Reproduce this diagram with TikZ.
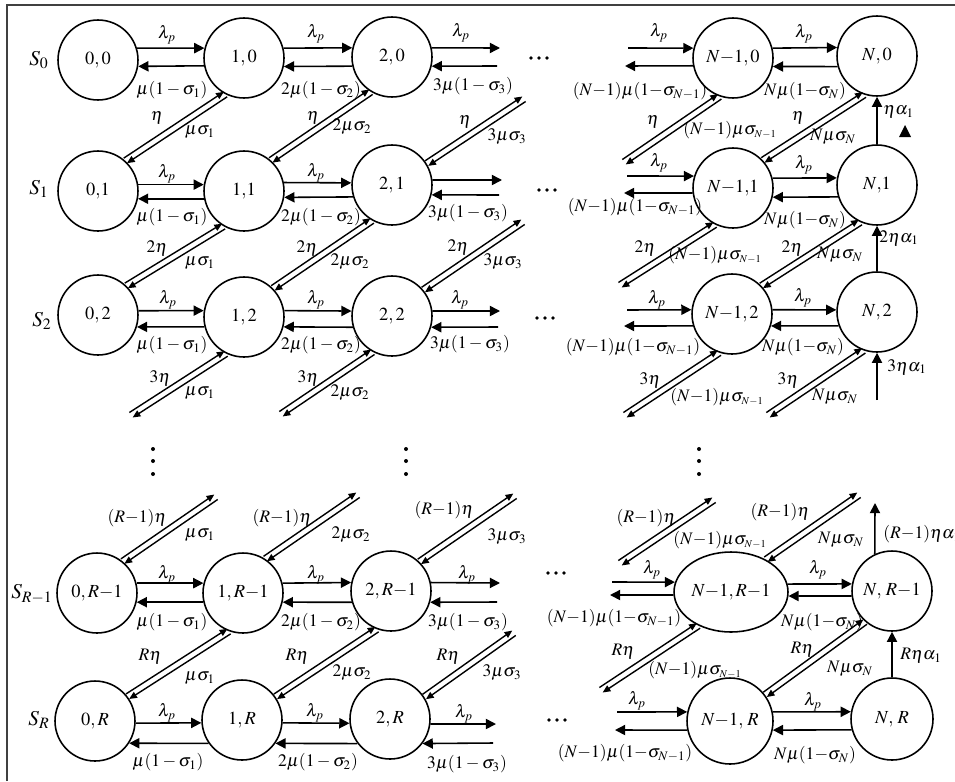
\documentclass[tikz,border=0pt]{standalone}
\usepackage{mathptmx}
\usetikzlibrary{arrows.meta,calc,shapes.geometric}

\tikzset{
  st/.style={circle,draw,line width=0.9pt,minimum size=1.6cm,inner sep=0pt,font=\fontsize{10.5}{12}\selectfont},
  ha/.style={line width=0.9pt,-{Triangle[length=5.8pt,width=5.8pt]}},
  da/.style={line width=0.8pt,-{Triangle[length=4.4pt,width=3.8pt]}},
  lb/.style={inner sep=0pt,font=\fontsize{10}{12}\selectfont},
  sl/.style={inner sep=0pt,font=\fontsize{12}{14}\selectfont},
  frame/.style={line width=1.1pt,draw=black!75},
}
% double diagonal link: upper-left line runs P->Q, lower-right line runs Q->P
\newcommand\dpair[2]{%
  \draw[da] ($(#1)!1.7pt!90:(#2)$) -- ($(#2)!1.7pt!-90:(#1)$);
  \draw[da] ($(#2)!1.7pt!90:(#1)$) -- ($(#1)!1.7pt!-90:(#2)$);}
\newcommand\smsN{\sigma_{\scriptscriptstyle N-1}}
% three bold dots in a row
\newcommand\hdots[2]{%
  \fill (#1-8,#2) circle (1.9);
  \fill (#1,#2) circle (1.9);
  \fill (#1+8,#2) circle (1.9);}

\begin{document}
\begin{tikzpicture}[x=0.02cm,y=-0.02cm]
\useasboundingbox (0,0) rectangle (955,781);
\draw[frame] (7,781) -- (7,5) -- (955,5);

% ---------------- states ----------------
\node[st] (a00)  at (98,60)   {$0,0$};
\node[st] (a10)  at (244,58)  {$1,0$};
\node[st] (a20)  at (392,57)  {$2,0$};
\node[st] (aN10) at (733,58)  {$N{-}1,0$};
\node[st] (aN0)  at (877,56)  {$N,0$};

\node[st] (a01)  at (98,191)  {$0{,}1$};
\node[st] (a11)  at (244,191) {$1{,}1$};
\node[st] (a21)  at (392,185) {$2,1$};
\node[st] (aN11) at (733,188) {$N{-}1{,}1$};
\node[st] (aN1)  at (877,185) {$N{,}1$};

\node[st] (a02)  at (98,315)  {$0,2$};
\node[st] (a12)  at (244,317) {$1,2$};
\node[st] (a22)  at (392,316) {$2,2$};
\node[st] (aN12) at (732,314) {$N{-}1,2$};
\node[st] (aN2)  at (877,312) {$N,2$};

\node[st] (a0r1) at (97,593)  {$0,R{-}1$};
\node[st] (a1r1) at (243,593) {$1,R{-}1$};
\node[st] (a2r1) at (391,591) {$2,R{-}1$};
\node[draw,ellipse,line width=0.9pt,minimum width=2.28cm,minimum height=1.6cm,inner sep=0pt,
      font=\fontsize{10.5}{12}\selectfont] (aNe) at (731,592) {$N{-}1,R{-}1$};
\node[st] (aNr1) at (892,591) {$N,\,R{-}1$};

\node[st] (a0r)  at (95,721)  {$0,R$};
\node[st] (a1r)  at (242,720) {$1,R$};
\node[st] (a2r)  at (390,719) {$2,R$};
\node[st,minimum size=1.72cm] (aN1r) at (730,721) {$N{-}1,\,R$};
\node[st,minimum size=1.64cm] (aNr)  at (892,719) {$N,\,R$};

% ---------------- level labels ----------------
\node[sl] (s0)  at (39,60)  {$S_0$};
\node[sl] (s1)  at (39,189) {$S_1$};
\node[sl] (s2)  at (42,321) {$S_2$};
\node[sl] (sr1) at (32,594) {$S_{R-1}$};
\node[sl] (sr)  at (39,720) {$S_R$};

% ---------------- free ends ----------------
\coordinate (h0a) at (500,48);  \coordinate (h0b) at (497,66);
\coordinate (h0c) at (628,48);  \coordinate (h0d) at (625,66);
\coordinate (h1a) at (502,180); \coordinate (h1b) at (499,195);
\coordinate (h1c) at (627,176); \coordinate (h1d) at (624,193);
\coordinate (h2a) at (500,311); \coordinate (h2b) at (498,327);
\coordinate (h2c) at (627,310); \coordinate (h2d) at (624,326);
\coordinate (h3a) at (500,583); \coordinate (h3b) at (497,602);
\coordinate (h3c) at (612,582); \coordinate (h3d) at (610,595);
\coordinate (h4a) at (496,724); \coordinate (h4b) at (493,743);
\coordinate (h4c) at (617,712); \coordinate (h4d) at (615,730);

% ---------------- row 0 ----------------
\draw[ha] (a00.17) -- (a10.166);   \draw[ha] (a10.191) -- (a00.-9);
\draw[ha] (a10.14) -- (a20.167);   \draw[ha] (a20.193) -- (a10.-12);
\draw[ha] (a20.13) -- (h0a);       \draw[ha] (h0b) -- (a20.-13);
\draw[ha] (h0c) -- (aN10.166);     \draw[ha] (aN10.191) -- (h0d);
\draw[ha] (aN10.14) -- (aN0.168);  \draw[ha] (aN0.195) -- (aN10.-12);

% ---------------- row 1 ----------------
\draw[ha] (a01.9) -- (a11.171);    \draw[ha] (a11.191) -- (a01.-11);
\draw[ha] (a11.12) -- (a21.177);   \draw[ha] (a21.197) -- (a11.-9);
\draw[ha] (a21.7) -- (h1a);        \draw[ha] (h1b) -- (a21.-14);
\draw[ha] (h1c) -- (aN11.163);     \draw[ha] (aN11.187) -- (h1d);
\draw[ha] (aN11.14) -- (aN1.170);  \draw[ha] (aN1.197) -- (aN11.-13);

% ---------------- row 2 ----------------
\draw[ha] (a02.6) -- (a12.171);    \draw[ha] (a12.194) -- (a02.-17);
\draw[ha] (a12.9) -- (a22.173);    \draw[ha] (a22.196) -- (a12.-14);
\draw[ha] (a22.7) -- (h2a);        \draw[ha] (h2b) -- (a22.-16);
\draw[ha] (h2c) -- (aN12.174);     \draw[ha] (aN12.197) -- (h2d);
\draw[ha] (aN12.6) -- (aN2.177);   \draw[ha] (aN2.200) -- (aN12.-17);

% ---------------- row R-1 ----------------
\draw[ha] (a0r1.14) -- (a1r1.166); \draw[ha] (a1r1.193) -- (a0r1.-13);
\draw[ha] (a1r1.14) -- (a2r1.168); \draw[ha] (a2r1.196) -- (a1r1.-13);
\draw[ha] (a2r1.12) -- (h3a);      \draw[ha] (h3b) -- (a2r1.-16);
\draw[ha] (h3c) -- (aNe.170);      \draw[ha] (aNe.183) -- (h3d);
\draw[ha] (aNe.8) -- (aNr1.170);   \draw[ha] (aNr1.187) -- (aNe.-4);

% ---------------- row R ----------------
\draw[ha] (a0r.-3) -- (a1r.184);   \draw[ha] (a1r.215) -- (a0r.-33);
\draw[ha] (a1r.-4) -- (a2r.186);   \draw[ha] (a2r.217) -- (a1r.-35);
\draw[ha] (a2r.-7) -- (h4a);       \draw[ha] (h4b) -- (a2r.-37);
\draw[ha] (h4c) -- (aN1r.168);     \draw[ha] (aN1r.192) -- (h4d);
\draw[ha] (aN1r.12) -- (aNr.170);  \draw[ha] (aNr.195) -- (aN1r.-12);

% ---------------- horizontal rate labels ----------------
\node[lb] (l00a) at (167,35) {$\lambda_p$};
\node[lb] (l00b) at (172,90) {$\mu(1-\sigma_1)$};
\node[lb] (l01a) at (316,34) {$\lambda_p$};
\node[lb] (l01b) at (321,90) {$2\mu(1-\sigma_2)$};
\node[lb] (l02a) at (461,33) {$\lambda_p$};
\node[lb] (l02b) at (473,86) {$3\mu(1-\sigma_3)$};
\node[lb] (l03a) at (659,33) {$\lambda_p$};
\node[lb] (l03b) at (640,91) {$(N{-}1)\mu(1{-}\sigma_{N-1})$};
\node[lb] (l04a) at (804,34) {$\lambda_p$};
\node[lb] (l04b) at (805,91) {$N\mu(1{-}\sigma_N)$};

\node[lb] (l10a) at (167,174) {$\lambda_p$};
\node[lb] (l10b) at (172,217) {$\mu(1-\sigma_1)$};
\node[lb] (l11a) at (316,173) {$\lambda_p$};
\node[lb] (l11b) at (321,217) {$2\mu(1-\sigma_2)$};
\node[lb] (l12b) at (468,213) {$3\mu(1-\sigma_3)$};
\node[lb] (l13a) at (659,163) {$\lambda_p$};
\node[lb] (l13b) at (635,207) {$(N{-}1)\mu(1{-}\sigma_{N-1})$};
\node[lb] (l14a) at (804,165) {$\lambda_p$};
\node[lb] (l14b) at (805,220) {$N\mu(1{-}\sigma_N)$};

\node[lb] (l20a) at (168,300) {$\lambda_p$};
\node[lb] (l20b) at (172,345) {$\mu(1-\sigma_1)$};
\node[lb] (l21a) at (316,300) {$\lambda_p$};
\node[lb] (l21b) at (321,345) {$2\mu(1-\sigma_2)$};
\node[lb] (l22a) at (460,300) {$\lambda_p$};
\node[lb] (l22b) at (470,344) {$3\mu(1-\sigma_3)$};
\node[lb] (l23a) at (657,300) {$\lambda_p$};
\node[lb] (l23b) at (633,347) {$(N{-}1)\mu(1{-}\sigma_{N-1})$};
\node[lb] (l24a) at (803,298) {$\lambda_p$};
\node[lb] (l24b) at (803,347) {$N\mu(1{-}\sigma_N)$};

\node[lb] (l30a) at (167,575) {$\lambda_p$};
\node[lb] (l30b) at (172,622) {$\mu(1-\sigma_1)$};
\node[lb] (l31a) at (316,575) {$\lambda_p$};
\node[lb] (l31b) at (321,622) {$2\mu(1-\sigma_2)$};
\node[lb] (l32a) at (467,575) {$\lambda_p$};
\node[lb] (l32b) at (468,622) {$3\mu(1-\sigma_3)$};
\node[lb] (l33a) at (652,570) {$\lambda_p$};
\node[lb] (l33b) at (614,618) {$(N{-}1)\mu(1{-}\sigma_{N-1})$};
\node[lb] (l34a) at (818,570) {$\lambda_p$};
\node[lb] (l34b) at (822,622) {$N\mu(1{-}\sigma_N)$};

\node[lb] (l40a) at (167,713) {$\lambda_p$};
\node[lb] (l40b) at (168,762) {$\mu(1-\sigma_1)$};
\node[lb] (l41a) at (315,713) {$\lambda_p$};
\node[lb] (l41b) at (318,762) {$2\mu(1-\sigma_2)$};
\node[lb] (l42a) at (464,714) {$\lambda_p$};
\node[lb] (l42b) at (467,764) {$3\mu(1-\sigma_3)$};
\node[lb] (l43a) at (637,701) {$\lambda_p$};
\node[lb] (l43b) at (625,753) {$(N{-}1)\mu(1{-}\sigma_{N-1})$};
\node[lb] (l44a) at (813,702) {$\lambda_p$};
\node[lb] (l44b) at (815,755) {$N\mu(1{-}\sigma_N)$};

% ---------------- diagonal links ----------------
\coordinate (f3)  at (524,99);
\coordinate (f4)  at (624,162);
\coordinate (f8)  at (523,222);
\coordinate (f9)  at (620,285);
\coordinate (f11) at (131,415);
\coordinate (f12) at (281,414);
\coordinate (f13) at (625,415);
\coordinate (f14) at (768,415);
\coordinate (f15) at (216,497);
\coordinate (f16) at (358,495);
\coordinate (f17) at (515,496);
\coordinate (f18a) at (620,563);
\coordinate (f18b) at (714,500);
\coordinate (f19) at (859,495);
\coordinate (f22) at (514,633);
\coordinate (f23) at (601,690);

\dpair{a01.48}{a10.243}
\dpair{a11.49}{a20.239}
\dpair{a21.32}{f3}
\dpair{f4}{aN10.251}
\dpair{aN11.43}{aN0.252}

\dpair{a02.46}{a11.240}
\dpair{a12.45}{a21.241}
\dpair{a22.40}{f8}
\dpair{f9}{aN11.244}
\dpair{aN12.44}{aN1.246}

\dpair{f11}{a12.244}
\dpair{f12}{a22.242}
\dpair{f13}{aN12.252}
\dpair{f14}{aN2.251}

\dpair{a0r1.51}{f15}
\dpair{a1r1.57}{f16}
\dpair{a2r1.46}{f17}
\dpair{f18a}{f18b}
\dpair{aNe.43}{f19}

\dpair{a0r.37}{a1r1.250}
\dpair{a1r.35}{a2r1.250}
\dpair{a2r.33}{f22}
\dpair{f23}{aNe.226}
\dpair{aN1r.37}{aNr1.229}

% ---------------- diagonal rate labels ----------------
\node[lb] (d1u)  at (157,118) {$\eta$};
\node[lb] (d1d)  at (200,132) {$\mu\sigma_1$};
\node[lb] (d2u)  at (313,118) {$\eta$};
\node[lb] (d2d)  at (352,127) {$2\mu\sigma_2$};
\node[lb] (d3u)  at (465,122) {$\eta$};
\node[lb] (d3d)  at (507,137) {$3\mu\sigma_3$};
\node[lb] (d4u)  at (653,122) {$\eta$};
\node[lb] (d4d)  at (730,130) {$(N{-}1)\mu\smsN$};
\node[lb] (d5u)  at (798,118) {$\eta$};
\node[lb] (d5d)  at (833,137) {$N\mu\sigma_N$};

\node[lb] (d6u)  at (157,248) {$2\eta$};
\node[lb] (d6d)  at (200,263) {$\mu\sigma_1$};
\node[lb] (d7u)  at (307,248) {$2\eta$};
\node[lb] (d7d)  at (350,262) {$2\mu\sigma_2$};
\node[lb] (d8u)  at (458,247) {$2\eta$};
\node[lb] (d8d)  at (503,262) {$3\mu\sigma_3$};
\node[lb] (d9u)  at (645,248) {$2\eta$};
\node[lb] (d9d)  at (715,255) {$(N{-}1)\mu\smsN$};
\node[lb] (d10u) at (792,248) {$2\eta$};
\node[lb] (d10d) at (840,255) {$N\mu\sigma_N$};

\node[lb] (d11u) at (160,378) {$3\eta$};
\node[lb] (d11d) at (200,393) {$\mu\sigma_1$};
\node[lb] (d12u) at (308,378) {$3\eta$};
\node[lb] (d12d) at (350,393) {$2\mu\sigma_2$};
\node[lb] (d13u) at (650,380) {$3\eta$};
\node[lb] (d13d) at (717,397) {$(N{-}1)\mu\smsN$};
\node[lb] (d14u) at (788,380) {$3\eta$};
\node[lb] (d14d) at (835,397) {$N\mu\sigma_N$};

\node[lb] (d15u) at (137,518) {$(R{-}1)\eta$};
\node[lb] (d15d) at (200,535) {$\mu\sigma_1$};
\node[lb] (d16u) at (282,518) {$(R{-}1)\eta$};
\node[lb] (d16d) at (351,535) {$2\mu\sigma_2$};
\node[lb] (d17u) at (444,510) {$(R{-}1)\eta$};
\node[lb] (d17d) at (507,537) {$3\mu\sigma_3$};
\node[lb] (d18u) at (646,518) {$(R{-}1)\eta$};
\node[lb] (d18d) at (720,540) {$(N{-}1)\mu\smsN$};
\node[lb] (d19u) at (780,512) {$(R{-}1)\eta$};
\node[lb] (d19d) at (841,540) {$N\mu\sigma_N$};

\node[lb] (d20u) at (150,657) {$R\eta$};
\node[lb] (d20d) at (200,678) {$\mu\sigma_1$};
\node[lb] (d21u) at (297,657) {$R\eta$};
\node[lb] (d21d) at (352,673) {$2\mu\sigma_2$};
\node[lb] (d22u) at (448,657) {$R\eta$};
\node[lb] (d22d) at (502,673) {$3\mu\sigma_3$};
\node[lb] (d23u) at (623,652) {$R\eta$};
\node[lb] (d23d) at (695,670) {$(N{-}1)\mu\smsN$};
\node[lb] (d24u) at (802,650) {$R\eta$};
\node[lb] (d24d) at (850,669) {$N\mu\sigma_N$};

% ---------------- vertical links in the last column ----------------
\coordinate (v3) at (877,400);
\coordinate (v4) at (875,503);
\draw[ha] (aN1.north) -- (aN0.south);
\draw[ha] (aN2.north) -- (aN1.south);
\draw[ha] (v3) -- (aN2.south);
\draw[ha] (aNr1.115) -- (v4);
\draw[ha] (aNr.north) -- (aNr1.south);
\node[lb,anchor=west] (v1l) at (883,112) {$\eta\alpha_1$};
\node[lb,anchor=west] (v2l) at (879,238) {$2\eta\alpha_1$};
\node[lb,anchor=west] (v3l) at (887,367) {$3\eta\alpha_1$};
\node[lb,anchor=west] (v4l) at (883,534) {$(R{-}1)\eta\alpha_1$};
\node[lb,anchor=west] (v5l) at (900,656) {$R\eta\alpha_1$};
\fill (905,125) -- (899,137) -- (911,137) -- cycle;

% ---------------- ellipses ----------------
\hdots{539}{58}
\hdots{547}{190}
\hdots{545}{318}
\hdots{556}{573}
\hdots{557}{720}
\foreach \x in {153,406,699} {
  \fill (\x,449) circle (2);
  \fill (\x,461) circle (2);
  \fill (\x,474) circle (2);
}
\end{tikzpicture}
\end{document}
